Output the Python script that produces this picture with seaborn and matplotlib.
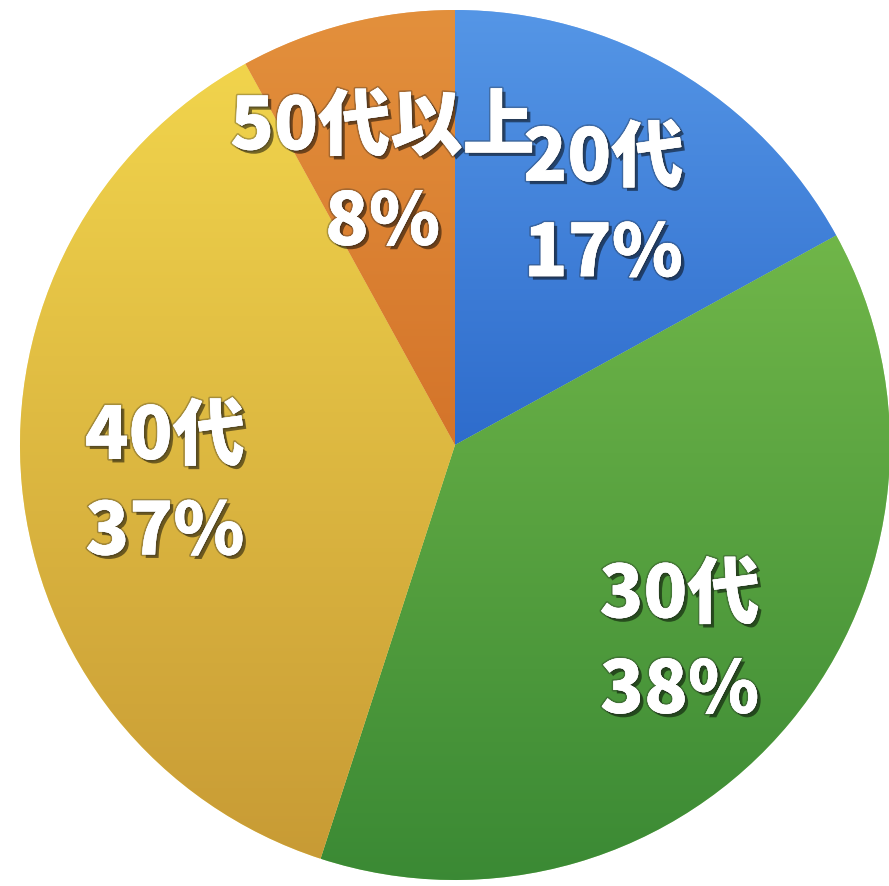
import numpy as np
import matplotlib
matplotlib.use("Agg")
import matplotlib.pyplot as plt
import matplotlib.patheffects as pe
from matplotlib.colors import LinearSegmentedColormap
import seaborn as sns

categories = ["20代", "30代", "40代", "50代以上"]
values = [17, 38, 37, 8]
top_colors = ["#5596e6", "#70b649", "#f1d44c", "#e3903c"]
bottom_colors = ["#2e6ccc", "#3a8934", "#c89b35", "#d4742a"]

sns.set_theme(style="white")
plt.rcParams["font.family"] = ["Noto Sans CJK JP", "DejaVu Sans"]

fig = plt.figure(figsize=(8.89, 8.86), dpi=100)
ax = fig.add_axes([20 / 889, 6 / 886, 870 / 889, 870 / 886])

labels = [f"{c}\n{v}%" for c, v in zip(categories, values)]
wedges, texts = ax.pie(
    values, labels=labels, startangle=90, counterclock=False,
    colors=top_colors, labeldistance=0.67,
    wedgeprops=dict(edgecolor=(1, 1, 1, 0.35), linewidth=0.8),
    textprops=dict(color="white", fontsize=52, fontweight="heavy",
                   ha="center", va="center", linespacing=1.4),
)

# vertical gradient inside each wedge
for w, ct, cb in zip(wedges, top_colors, bottom_colors):
    verts = w.get_path().vertices
    ymin, ymax = verts[:, 1].min(), verts[:, 1].max()
    xmin, xmax = verts[:, 0].min(), verts[:, 0].max()
    cmap = LinearSegmentedColormap.from_list("g", [cb, ct])
    grad = np.linspace(0, 1, 256).reshape(-1, 1)
    im = ax.imshow(grad, cmap=cmap, origin="lower", aspect="auto",
                   extent=(xmin, xmax, ymin, ymax), zorder=w.get_zorder() + 0.1)
    im.set_clip_path(w)

for t in texts:
    x, y = t.get_position()
    t.set_position((x, y - 0.03))
    t.set_ha("center")
    t.set_va("center")
    t.set_zorder(10)
    t.set_path_effects([
        pe.withSimplePatchShadow(offset=(2.5, -2.5), shadow_rgbFace="black", alpha=0.5),
        pe.withStroke(linewidth=2.5, foreground=(0.15, 0.15, 0.15, 0.3)),
        pe.Normal(),
    ])

ax.set_xlim(-1, 1)
ax.set_ylim(-1, 1)
ax.set_aspect("auto")
ax.axis("off")

fig.savefig("out.png", dpi=100, facecolor="white")
